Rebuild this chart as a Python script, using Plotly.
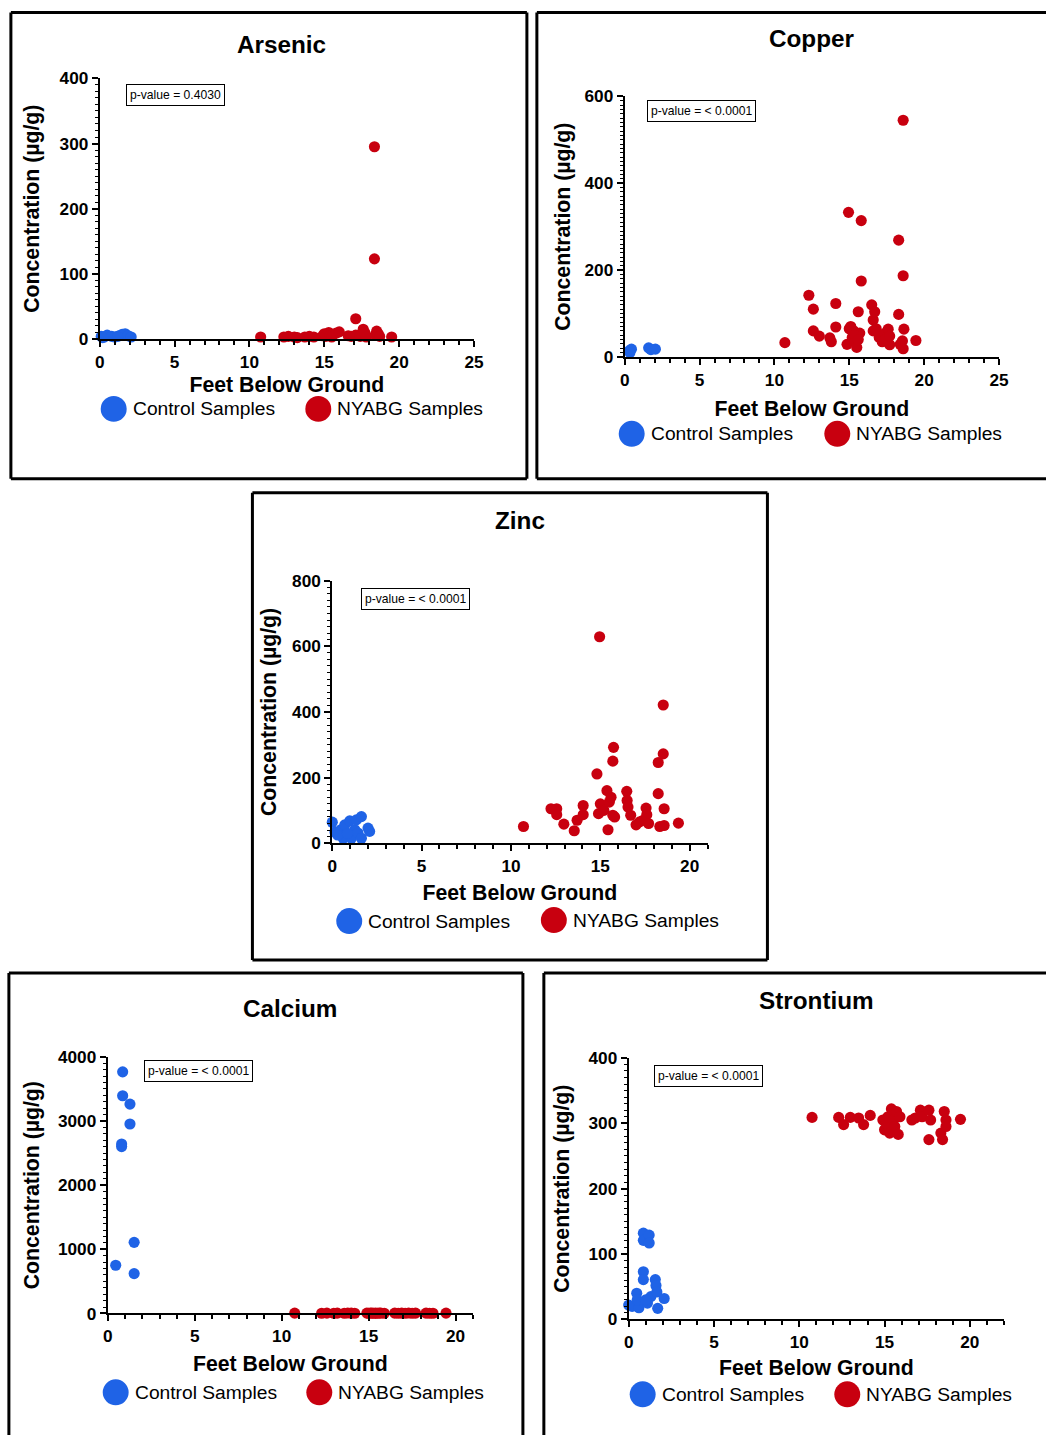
import plotly.graph_objects as go

W, H = 1046, 1435
# the page photo maps page px -> picture px as: pic = A + S * page
AX, AY, S = 4.1, 8.5, 0.9877
FW, FH = 1056, 1446
K = 1 / S  # size compensation

# ---------------- DATA ----------------
panel_titles = ["Arsenic", "Copper", "Zinc", "Calcium", "Strontium"]
p_values = ["p-value = 0.4030", "p-value = < 0.0001", "p-value = < 0.0001",
            "p-value = < 0.0001", "p-value = < 0.0001"]
series_names = ["Control Samples", "NYABG Samples"]

# Arsenic
as_ctrl_x = [0.1, 0.3, 0.5, 0.8, 1.0, 1.3, 1.5, 1.7, 1.9, 2.1, 0.2, 1.2]
as_ctrl_y = [4, 3, 6, 4, 3, 5, 7, 8, 5, 3, 2, 4]
as_nyabg_x = [10.75, 12.3, 12.6, 13.0, 13.2, 13.7, 14.0, 14.3, 14.9, 15.0, 15.1, 15.3, 15.4,
              15.5, 15.6, 15.8, 16.0, 16.6, 16.8, 17.1, 17.1, 17.4, 17.6, 17.7, 17.8, 18.35,
              18.35, 18.4, 18.5, 18.6, 18.7, 19.5]
as_nyabg_y = [3, 3, 4, 3, 2, 3, 4, 3, 5, 8, 4, 10, 6, 3, 7, 9, 11, 5, 4, 31, 6, 4, 15, 10, 3,
              295, 123, 6, 12, 8, 4, 3]

# Copper
cu_ctrl_x = [0.3, 0.45, 1.6, 1.75, 2.05, 0.35]
cu_ctrl_y = [14, 18, 21, 17, 18, 10]
cu_nyabg_x = [10.7, 12.3, 12.6, 12.6, 13.0, 13.7, 13.8, 14.1, 14.1, 14.85, 14.95, 15.0, 15.2,
              15.3, 15.4, 15.5, 15.6, 15.7, 15.8, 15.8, 16.5, 16.6, 16.7, 16.8, 17.0, 17.2,
              17.4, 17.6, 17.7, 18.3, 18.3, 18.4, 18.55, 18.6, 18.6, 18.65, 19.45, 15.1,
              15.4, 15.6, 16.6, 17.4, 17.7, 18.6]
cu_nyabg_y = [33, 142, 110, 60, 48, 44, 35, 123, 69, 29, 333, 65, 45, 60, 35, 22, 104, 55,
              314, 175, 120, 85, 104, 65, 45, 35, 55, 64, 28, 269, 98, 29, 37, 545, 187, 64,
              38, 70, 50, 40, 60, 40, 48, 19]

# Zinc
zn_ctrl_x = [0.0, 0.15, 0.48, 0.61, 0.7, 0.98, 1.07, 1.26, 1.35, 1.44, 1.63, 1.63, 2.0, 2.09,
             0.3, 0.85]
zn_ctrl_y = [64, 34, 41, 15, 56, 68, 15, 41, 71, 31, 81, 15, 46, 36, 25, 30]
zn_nyabg_x = [10.7, 12.24, 12.56, 12.56, 12.96, 13.54, 13.7, 14.04, 14.04, 14.81, 14.96, 14.9,
              15.0, 15.2, 15.37, 15.43, 15.5, 15.6, 15.74, 15.7, 15.7, 15.8, 16.48, 16.5,
              16.55, 16.7, 17.0, 17.2, 17.4, 17.56, 17.6, 17.7, 18.24, 18.24, 18.33, 18.52,
              18.52, 18.57, 18.57, 19.37]
zn_nyabg_y = [51, 105, 105, 87, 58, 38, 70, 87, 115, 211, 629, 90, 120, 100, 160, 41, 125,
              140, 292, 250, 85, 80, 158, 130, 110, 85, 56, 65, 70, 107, 87, 60, 246, 151, 51,
              421, 272, 105, 54, 61]

# Calcium
ca_ctrl_x = [0.86, 0.86, 1.28, 1.28, 0.8, 0.8, 1.52, 0.46, 1.52]
ca_ctrl_y = [3767, 3394, 3264, 2953, 2642, 2601, 1109, 751, 622]
ca_nyabg_x = [10.75, 12.3, 12.6, 13.0, 13.2, 13.6, 13.8, 14.0, 14.2, 14.9, 15.0, 15.1, 15.2,
              15.3, 15.4, 15.5, 15.6, 15.7, 15.9, 16.5, 16.7, 16.9, 17.1, 17.3, 17.5, 17.7,
              18.3, 18.5, 18.7, 19.45]
ca_nyabg_y = [5, 4, 6, 3, 5, 4, 7, 5, 3, 6, 4, 8, 5, 3, 6, 4, 7, 5, 3, 6, 4, 5, 3, 7, 4, 6,
              5, 3, 4, 6]

# Strontium
sr_ctrl_x = [0.0, 0.2, 0.47, 0.6, 0.86, 0.86, 0.86, 0.86, 1.1, 1.2, 1.2, 1.3, 1.56, 1.6,
             1.65, 1.7, 2.08, 0.5, 1.0]
sr_ctrl_y = [22, 20, 40, 18, 132, 121, 73, 61, 25, 129, 117, 35, 61, 52, 42, 17, 32, 30, 30]
sr_nyabg_x = [10.75, 12.31, 12.6, 12.99, 13.48, 13.77, 14.16, 14.9, 15.0, 15.1, 15.2, 15.3,
              15.4, 15.5, 15.6, 15.7, 15.8, 15.9, 16.6, 16.8, 17.1, 17.2, 17.6, 17.7, 17.6,
              18.3, 18.4, 18.5, 18.6, 18.6, 19.45]
sr_nyabg_y = [309, 309, 298, 309, 308, 298, 312, 305, 290, 300, 310, 285, 322, 305, 295, 318,
              283, 310, 305, 308, 320, 310, 320, 305, 275, 285, 275, 318, 305, 295, 306]

x_ranges = [[0, 25], [0, 25], [0, 21], [0, 21], [0, 22]]
y_ranges = [[0, 400], [0, 600], [0, 800], [0, 4000], [0, 400]]
y_dticks = [100, 200, 200, 1000, 100]
y_minor = [10, 10, 20, 100, 10]

data = [
    (as_ctrl_x, as_ctrl_y, as_nyabg_x, as_nyabg_y),
    (cu_ctrl_x, cu_ctrl_y, cu_nyabg_x, cu_nyabg_y),
    (zn_ctrl_x, zn_ctrl_y, zn_nyabg_x, zn_nyabg_y),
    (ca_ctrl_x, ca_ctrl_y, ca_nyabg_x, ca_nyabg_y),
    (sr_ctrl_x, sr_ctrl_y, sr_nyabg_x, sr_nyabg_y),
]

# ---------------- LAYOUT GEOMETRY (reference pixels) ----------------
areas = [(99, 474, 77, 338), (625, 1000, 95, 356), (332, 708, 580, 843),
         (107, 473, 1057, 1314), (629, 1005, 1058, 1320)]
# box: left, top, right, bottom, which edges are visible (l, t, r, b)
boxes = [(10, 11, 527, 478, (1, 1, 1, 1)), (537, 11, None, 478, (1, 1, 0, 1)),
         (252, 492, 768, 960, (1, 1, 1, 1)), (8, 973, 523, None, (1, 1, 1, 0)),
         (544, 973, None, None, (1, 1, 0, 0))]
title_pos = [(281, 43), (813, 37), (520, 520), (290, 1009), (817, 1001)]
pbox_pos = [(125, 83), (647, 99), (361, 587), (143, 1060), (654, 1065)]
legend_pos = [((113, 408), (318, 408)), ((632, 433), (838, 433)), ((349, 921), (554, 920)),
              ((115, 1393), (319, 1393)), ((643, 1395), (848, 1395))]
ystand = [14, 8, 10, 12, 13]
xstand = [6, 12, 10, 11, 9]

BLUE = "#1f63e6"
RED = "#c8000f"
FONT = "Liberation Sans"


def px(x):
    return 1.0 if x is None else ((x - AX) / S) / FW


def py(y):
    return 0.0 if y is None else 1 - ((y - AY) / S) / FH


fig = go.Figure()
shapes = []
annotations = []

for i in range(5):
    n = "" if i == 0 else str(i + 1)
    cx, cy, nx, ny = data[i]
    fig.add_trace(go.Scatter(x=cx, y=cy, mode="markers", name=series_names[0],
                             marker=dict(color=BLUE, size=11 * K), cliponaxis=False,
                             showlegend=False, xaxis="x" + n, yaxis="y" + n))
    fig.add_trace(go.Scatter(x=nx, y=ny, mode="markers", name=series_names[1],
                             marker=dict(color=RED, size=11 * K), cliponaxis=False,
                             showlegend=False, xaxis="x" + n, yaxis="y" + n))
    x0, x1, yt, yb = areas[i]
    axis_common = dict(showgrid=False, zeroline=False, showline=True, linecolor="black",
                       linewidth=2, ticks="outside", ticklen=6, tickwidth=2,
                       tickcolor="black",
                       tickfont=dict(family=FONT, size=17 * K, color="black",
                                     weight="bold"))
    fig.update_layout(**{
        "xaxis" + n: dict(domain=[px(x0), px(x1)], range=x_ranges[i], anchor="y" + n,
                          dtick=5, tick0=0,
                          minor=dict(dtick=1, ticks="outside", ticklen=4, tickwidth=1.5,
                                     tickcolor="black"),
                          title=dict(text="Feet Below Ground", standoff=xstand[i] * K,
                                     font=dict(family=FONT, size=21 * K, color="black",
                                               weight="bold")),
                          **axis_common),
        "yaxis" + n: dict(domain=[py(yb), py(yt)], range=y_ranges[i], anchor="x" + n,
                          dtick=y_dticks[i], tick0=0,
                          minor=dict(dtick=y_minor[i], ticks="outside", ticklen=3,
                                     tickwidth=1.2, tickcolor="black"),
                          title=dict(text="Concentration (µg/g)", standoff=ystand[i] * K,
                                     font=dict(family=FONT, size=21 * K, color="black",
                                               weight="bold")),
                          **axis_common),
    })
    bx0, by0, bx1, by1, (el, et, er, eb) = boxes[i]
    L, R, T, B = px(bx0), px(bx1), py(by0), py(by1)
    edges = [(el, (L, B, L, T)), (et, (L, T, R, T)), (er, (R, T, R, B)), (eb, (L, B, R, B))]
    for vis, (ax0, ay0, ax1, ay1) in edges:
        if vis:
            shapes.append(dict(type="line", xref="paper", yref="paper", x0=ax0, y0=ay0,
                               x1=ax1, y1=ay1, line=dict(color="black", width=3)))
    tx, ty = title_pos[i]
    annotations.append(dict(text=panel_titles[i], x=px(tx), y=py(ty), xref="paper",
                            yref="paper", showarrow=False, xanchor="center",
                            yanchor="middle",
                            font=dict(family=FONT, size=24 * K, color="black",
                                      weight="bold")))
    pxp, pyp = pbox_pos[i]
    annotations.append(dict(text=p_values[i], x=px(pxp), y=py(pyp), xref="paper",
                            yref="paper", showarrow=False, xanchor="left", yanchor="top",
                            bordercolor="black", borderwidth=1, borderpad=3,
                            font=dict(family=FONT, size=12 * K, color="black")))
    for (lx, ly), col, name in zip(legend_pos[i], [BLUE, RED], series_names):
        r = 13
        shapes.append(dict(type="circle", xref="paper", yref="paper",
                           x0=px(lx - r), x1=px(lx + r), y0=py(ly + r), y1=py(ly - r),
                           fillcolor=col, line=dict(width=0)))
        annotations.append(dict(text=name, x=px(lx + r + 4), y=py(ly), xref="paper",
                                yref="paper", showarrow=False, xanchor="left",
                                yanchor="middle",
                                font=dict(family=FONT, size=19 * K, color="black")))

fig.update_layout(width=FW, height=FH, autosize=False,
                  margin=dict(l=0, r=0, t=0, b=0),
                  paper_bgcolor="white", plot_bgcolor="white",
                  shapes=shapes, annotations=annotations, showlegend=False)

fig.write_html("out.html", config={"displayModeBar": False},
               post_script="document.body.style.margin='0';"
                           "document.body.style.overflow='hidden';")
